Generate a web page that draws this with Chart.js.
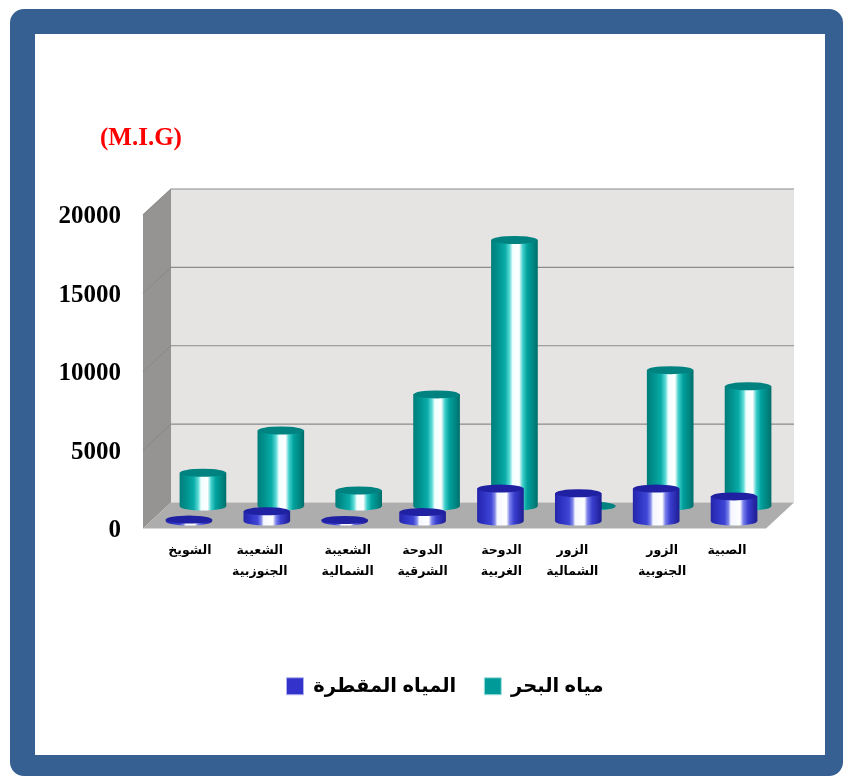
<!DOCTYPE html>
<html lang="ar">
<head>
<meta charset="utf-8">
<script src="https://cdn.jsdelivr.net/npm/chart.js@4"></script>
<style>
html,body{margin:0;padding:0;background:#fff;width:843px;height:776px;overflow:hidden}
#frame{position:absolute;left:10px;top:9px;width:833px;height:767px;box-sizing:border-box;background:#fff;
border-style:solid;border-color:#366092;border-width:25px 18px 21px 25px;border-radius:14px}
canvas{position:absolute;left:0;top:0}
</style>
</head>
<body>
<div id="frame"></div>
<canvas id="c" width="843" height="776"></canvas>
<script>
const categories = [
  ['الشويخ'],
  ['الشعيبة','الجنوزبية'],
  ['الشعيبة','الشمالية'],
  ['الدوحة','الشرقية'],
  ['الدوحة','الغربية'],
  ['الزور','الشمالية'],
  ['الزور','الجنوبية'],
  ['الصبية']
];
const seawater = [2150, 4850, 1020, 7150, 17000, 50, 8700, 7670];
const distilled = [120, 650, 100, 600, 2100, 1800, 2100, 1600];
const seriesNames = ['مياه البحر', 'المياه المقطرة'];
const unitLabel = '(M.I.G)';
const yTicks = [0, 5000, 10000, 15000, 20000];
const labelShift = [8, 0, 10, 7, 8, 1, 13, 0];

const DEPTH_X = 28, DEPTH_Y = 26, RY = 4, LEGEND_CENTER = 445, Y_LABEL_DROP = 2;
const ARABIC = '"Liberation Sans","DejaVu Sans",sans-serif';
const SERIF = '"Liberation Serif",serif';

const tealStops = [[0,'#007f7c'],[.14,'#00928e'],[.3,'#0aaca8'],[.4,'#5fdcd8'],[.46,'#f0ffff'],[.6,'#ffffff'],[.68,'#40d0cc'],[.78,'#00a09c'],[.92,'#008480'],[1,'#006f6c']];
const blueStops = [[0,'#2626ac'],[.14,'#2f33c4'],[.3,'#3f46d6'],[.38,'#8088ea'],[.43,'#f4f6ff'],[.63,'#ffffff'],[.7,'#7a80ea'],[.8,'#3a3fd0'],[.94,'#2626a6'],[1,'#1f1f94']];

function paint(ctx, x, w, stops){
  const g = ctx.createLinearGradient(x - w/2, 0, x + w/2, 0);
  stops.forEach(s => g.addColorStop(s[0], s[1]));
  return g;
}
function shaded(stops){
  return c => {
    const s = c.chart.scales.x;
    if (!s || c.dataIndex === undefined) return stops[2][1];
    return paint(c.chart.ctx, s.getPixelForValue(c.dataIndex), 46, stops);
  };
}

const walls = {
  id: 'walls',
  afterLayout(chart){
    const l = chart.legend, d = LEGEND_CENTER - (l.left + l.right) / 2;
    l.left += d; l.right += d;
  },
  beforeDatasetsDraw(chart){
    const {ctx, chartArea: a, scales: {y}} = chart;
    const L = a.left, R = a.right, B = y.getPixelForValue(0), T = y.getPixelForValue(20000);
    ctx.save();
    ctx.fillStyle = '#e6e3e3';
    ctx.fillRect(L + DEPTH_X, T - DEPTH_Y, R - L, B - T);
    ctx.fillStyle = '#969492';
    ctx.beginPath();
    ctx.moveTo(L, T); ctx.lineTo(L + DEPTH_X, T - DEPTH_Y);
    ctx.lineTo(L + DEPTH_X, B - DEPTH_Y); ctx.lineTo(L, B); ctx.closePath(); ctx.fill();
    ctx.fillStyle = '#adadad';
    ctx.beginPath();
    ctx.moveTo(L, B); ctx.lineTo(L + DEPTH_X, B - DEPTH_Y);
    ctx.lineTo(R + DEPTH_X, B - DEPTH_Y); ctx.lineTo(R, B); ctx.closePath(); ctx.fill();
    ctx.strokeStyle = '#8c8c8c'; ctx.lineWidth = 1.2;
    y.ticks.forEach(t => {
      if (t.value === 0) return;
      const p = y.getPixelForValue(t.value);
      ctx.beginPath();
      ctx.moveTo(L, p); ctx.lineTo(L + DEPTH_X, p - DEPTH_Y); ctx.lineTo(R + DEPTH_X, p - DEPTH_Y);
      ctx.stroke();
    });
    ctx.restore();
  },
  beforeDatasetDraw(chart, args){
    const ds = chart.data.datasets[args.index], {ctx} = chart;
    ctx.save();
    ctx.translate(ds.depthShift, -ds.depthLift);
    args.meta.data.forEach(b => {
      ctx.fillStyle = paint(ctx, b.x, b.width, ds.stops);
      ctx.beginPath(); ctx.ellipse(b.x, b.base, b.width/2, RY, 0, 0, Math.PI*2); ctx.fill();
    });
  },
  afterDatasetDraw(chart, args){
    const ds = chart.data.datasets[args.index], {ctx} = chart;
    args.meta.data.forEach(b => {
      ctx.fillStyle = ds.capColor;
      ctx.beginPath(); ctx.ellipse(b.x, b.y, b.width/2, RY, 0, 0, Math.PI*2); ctx.fill();
    });
    ctx.restore();
  },
  afterDraw(chart){
    const {ctx} = chart;
    ctx.save();
    ctx.fillStyle = '#ff0000';
    ctx.font = 'bold 25px ' + SERIF;
    ctx.textAlign = 'left'; ctx.textBaseline = 'middle';
    ctx.fillText(unitLabel, 100, 139);
    ctx.restore();
  }
};

new Chart(document.getElementById('c'), {
  type: 'bar',
  plugins: [walls],
  data: {
    labels: categories,
    datasets: [
      {label: seriesNames[0], data: seawater, order: 2, grouped: false, barThickness: 46, borderWidth: 0,
       depthShift: 21, depthLift: 22, stops: tealStops, capColor: '#008380', backgroundColor: shaded(tealStops)},
      {label: seriesNames[1], data: distilled, order: 1, grouped: false, barThickness: 46, borderWidth: 0,
       depthShift: 7, depthLift: 7, stops: blueStops, capColor: '#2020a2', backgroundColor: shaded(blueStops)}
    ]
  },
  options: {
    responsive: false,
    animation: false,
    layout: {padding: {top: 215, right: 77, bottom: 70, left: 0}},
    scales: {
      x: {
        grid: {display: false}, border: {display: false},
        afterFit(s){ s.height = 120; },
        afterUpdate(s){
          if (s._shifted) return;
          s._shifted = true;
          const base = s.getPixelForTick.bind(s);
          s.getPixelForTick = i => base(i) + (labelShift[i] || 0);
        },
        ticks: {autoSkip: false, maxRotation: 0, padding: 4, color: '#000',
                font: {family: ARABIC, size: 12.5, weight: 'bold', lineHeight: 1.68}}
      },
      y: {
        min: 0, max: 20000,
        grid: {display: false}, border: {display: false},
        afterFit(s){ s.width = 143; },
        afterBuildTicks(s){ s.ticks = yTicks.map(v => ({value: v})); },
        afterUpdate(s){
          if (s._shifted) return;
          s._shifted = true;
          const base = s.getPixelForTick.bind(s);
          s.getPixelForTick = i => base(i) + Y_LABEL_DROP;
        },
        ticks: {padding: 14, color: '#000', font: {family: SERIF, size: 25, weight: 'bold'},
                callback: v => String(v)}
      }
    },
    plugins: {
      title: {display: false},
      tooltip: {enabled: false},
      legend: {
        position: 'bottom', textDirection: 'rtl',
        labels: {
          boxWidth: 17, boxHeight: 17, padding: 28, color: '#000',
          font: {family: ARABIC, size: 19.5, weight: 'bold'},
          generateLabels: () => [
            {text: seriesNames[1], fillStyle: '#3333cc', strokeStyle: '#b0b0ee', lineWidth: 1, datasetIndex: 1},
            {text: seriesNames[0], fillStyle: '#009a98', strokeStyle: '#9fe0de', lineWidth: 1, datasetIndex: 0}
          ]
        }
      }
    }
  }
});
</script>
</body>
</html>
